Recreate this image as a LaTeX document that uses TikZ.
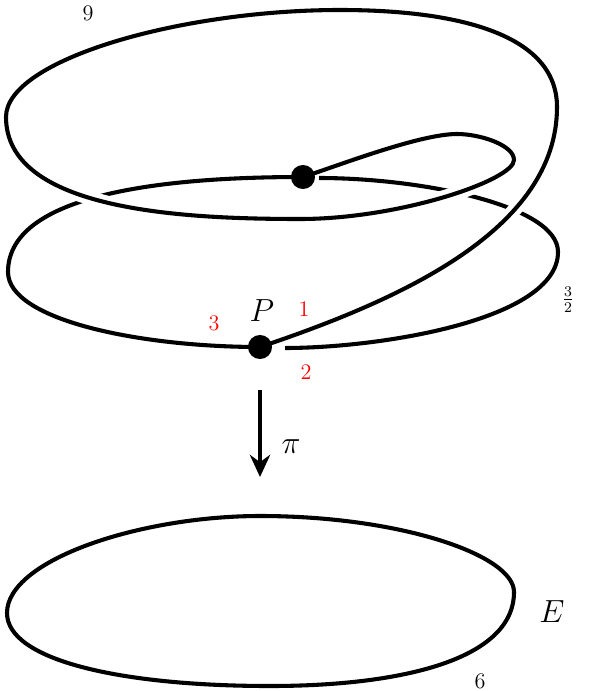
\documentclass[tikz,border=0pt]{standalone}
\usepackage{tikz}
\usetikzlibrary{arrows.meta}
\tikzset{strand/.style={line width=2.2pt},
%white gap where a strand passes over
    halo/.style={draw=white, line width=7.6pt},
    sheet/.style={red, font=\large},
    dot/.style={
    circle,
    fill=black,
    inner sep=0pt,
    minimum size=13pt,
    },
    proj/.style={line width=2.2pt, -{Stealth[length=12pt, width=11pt, inset=4pt]}},
}

\begin{document}
\begin{tikzpicture}[x=0.54pt, y=-0.54pt]
\useasboundingbox (0,0) rectangle (604,691);
\coordinate (p) at (260,347); % P
\coordinate (q) at (303,177); % second preimage
\draw[strand] (260,516) .. controls (400,516) and (514,555) .. (514,592) .. controls (514,660) and (400,686) .. (270,686) .. controls (120,686) and (7,660) .. (7,613) .. controls (7,560) and (140,516) .. cycle; % base curve E
\draw[strand] (319,178) .. controls (420,178) and (558,205) .. (558,252) .. controls (558,320) and (380,348) .. (285,348); % lower sheet, right half
\draw[strand] (p) .. controls (140,347) and (8,320) .. (8,272) .. controls (8,190) and (180,177) .. (q); % lower sheet, left half
\draw[halo] (p) .. controls (400,300) and (557,230) .. (557,107); % gap
\draw[halo] (6,117) .. controls (6,210) and (180,219) .. (300,219) .. controls (400,219) and (514,180) .. (514,160); % gaps
\draw[strand] (p) .. controls (400,300) and (557,230) .. (557,107) .. controls (557,35) and (460,10) .. (340,10) .. controls (180,10) and (6,60) .. (6,117) .. controls (6,210) and (180,219) .. (300,219) .. controls (400,219) and (514,180) .. (514,160) .. controls (514,145) and (480,134) .. (457,134) .. controls (420,134) and (340,165) .. (q); % upper sheet
\node[dot] (P) at (p) {};
\node[dot] (Q) at (q) {};
\coordinate (pitop) at (260,390);
\coordinate (pibot) at (260,477);
\draw[proj] (pitop) -- (pibot); % projection
\node (pi) at (291,447) {\LARGE $\pi$};
\node (Plabel) at (262,311) {\LARGE $P$};
\node[sheet] (one) at (304,309) {1};
\node[sheet] (three) at (214,323) {3};
\node[sheet] (two) at (306,372) {2};
\node[font=\large] (nine) at (88,13) {9};
\node[font=\large] (threehalves) at (568,300) {$\frac{3}{2}$};
\node[font=\large] (six) at (480,681) {6};
\node (E) at (552,612) {\LARGE $E$};
\end{tikzpicture}
\end{document}
